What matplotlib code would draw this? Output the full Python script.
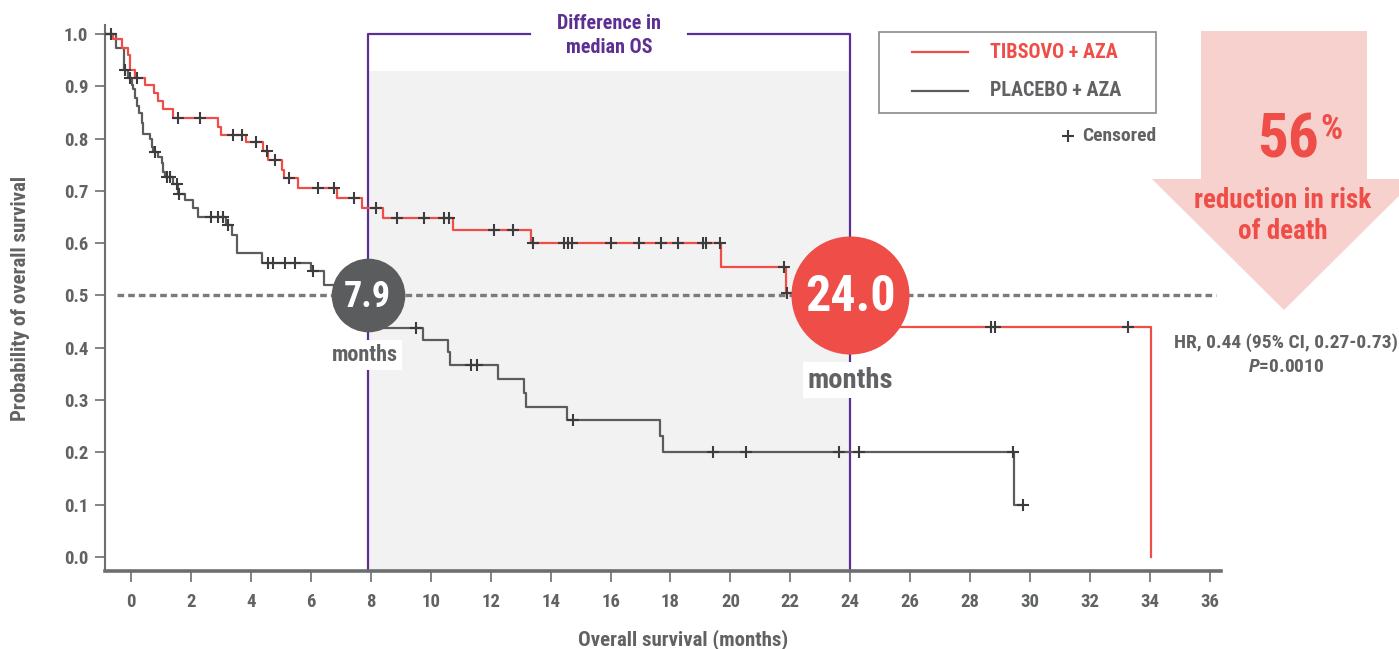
import numpy as np
import matplotlib.pyplot as plt
from matplotlib.patches import Polygon, Rectangle

plt.rcParams['font.family'] = ['Roboto Condensed', 'DejaVu Sans']
plt.rcParams['font.weight'] = 'bold'
plt.rcParams['axes.labelweight'] = 'bold'
plt.rcParams['mathtext.fontset'] = 'custom'
plt.rcParams['mathtext.it'] = 'Roboto Condensed:italic:bold'
plt.rcParams['mathtext.rm'] = 'Roboto Condensed:bold'

# TIBSOVO + AZA: step times (months) and survival after each step
tib_time = [-0.85, -0.60, -0.31, -0.10, -0.04, 0.13, 0.48, 0.78, 0.89, 1.07, 1.40, 2.91, 3.00,
            3.84, 4.42, 4.58, 5.05, 5.12, 5.58, 6.86, 7.70, 8.40, 10.73, 13.35, 19.70, 21.85,
            24.00, 34.02]
tib_surv = [1.000, 0.990, 0.973, 0.960, 0.932, 0.916, 0.903, 0.887, 0.872, 0.857, 0.839, 0.823,
            0.807, 0.793, 0.777, 0.759, 0.740, 0.724, 0.705, 0.686, 0.667, 0.648, 0.625, 0.601,
            0.554, 0.504, 0.440, 0.000]
tib_cens = [0.21, 1.56, 2.30, 3.41, 3.69, 4.17, 4.53, 4.80, 5.27, 6.23, 6.78, 7.43, 8.17, 8.89,
            9.78, 10.44, 10.62, 12.12, 12.76, 13.42, 14.46, 14.59, 14.73, 16.00, 16.95, 17.68,
            18.24, 19.08, 19.18, 19.66, 21.79, 21.90, 28.70, 28.83, 33.26]

# PLACEBO + AZA
pbo_time = [-0.85, -0.49, -0.22, -0.10, 0.02, 0.08, 0.13, 0.19, 0.27, 0.36, 0.41, 0.63, 0.69,
            0.74, 0.91, 1.02, 1.08, 1.13, 1.41, 1.58, 1.80, 2.08, 2.25, 3.17, 3.36, 3.55, 4.38,
            6.00, 6.45, 7.90, 9.73, 10.57, 10.64, 12.23, 13.11, 13.19, 14.56, 17.65, 17.74,
            29.47, 29.75]
pbo_surv = [1.000, 0.973, 0.932, 0.916, 0.903, 0.894, 0.878, 0.862, 0.848, 0.829, 0.809, 0.800,
            0.784, 0.775, 0.765, 0.753, 0.737, 0.727, 0.714, 0.695, 0.683, 0.667, 0.651, 0.635,
            0.616, 0.582, 0.563, 0.546, 0.520, 0.437, 0.414, 0.391, 0.367, 0.340, 0.313, 0.287,
            0.262, 0.231, 0.201, 0.100, 0.100]
pbo_cens = [-0.68, -0.19, -0.05, 0.80, 1.19, 1.30, 1.52, 1.61, 2.66, 2.91, 3.08, 3.25, 4.58,
            4.75, 5.14, 5.47, 6.08, 9.50, 11.36, 11.54, 14.74, 19.41, 20.52, 23.61, 24.28,
            29.44, 29.75]

medians = [7.9, 24.0]
median_labels = ['7.9', '24.0']
hr_text = 'HR, 0.44 (95% CI, 0.27-0.73)'
p_text = r'$\it{P}$=0.0010'
risk_reduction = '56'

x_ticks = np.arange(0, 37, 2)
y_ticks = np.round(np.arange(0, 1.01, 0.1), 1)

RED = '#ef4d48'
DARK = '#5b5c5e'
TEXT = '#616264'
PURPLE = '#5e2f92'
CROSS = '#3c3c3c'
AXIS = '#6d6e70'

W, H = 1399, 649


def level_at(times, surv, t):
    idx = np.searchsorted(times, t, side='right') - 1
    return np.asarray(surv)[idx]


fig = plt.figure(figsize=(W / 100, H / 100), dpi=100)
ax = fig.add_axes([105 / W, 1 - 571 / H, 1116 / W, 546 / H])
y_lo, y_hi = -0.0268, 1.0172
ax.set_xlim(-0.868, 36.37)
ax.set_ylim(y_lo, y_hi)

# median difference band and bracket
ax.fill_between(medians, y_lo, 0.929, color='#f2f2f2', lw=0, zorder=0)
mid = np.mean(medians)
ax.plot([medians[0], medians[0], mid - 2.65], [y_lo, 1.0, 1.0], color=PURPLE, lw=1.6,
        clip_on=False, zorder=2)
ax.plot([mid + 2.65, medians[1], medians[1]], [1.0, 1.0, y_lo], color=PURPLE, lw=1.6,
        clip_on=False, zorder=2)
ax.text(mid, 0.998, 'Difference in\nmedian OS', ha='center', va='center', color=PURPLE,
        fontsize=14.5, linespacing=1.33, zorder=6)

ax.hlines(0.5, -0.47, 36.2, colors='#7b7b7b', lw=2.4, linestyles=(0, (2.0, 1.2)), zorder=1)

ax.step(pbo_time, pbo_surv, where='post', color=DARK, lw=1.6, zorder=3)
ax.step(tib_time, tib_surv, where='post', color=RED, lw=1.6, zorder=3)
ax.plot(pbo_cens, level_at(pbo_time, pbo_surv, pbo_cens), ls='none', marker='+', ms=8.5,
        mew=1.5, color=CROSS, zorder=4)
ax.plot(tib_cens, level_at(tib_time, tib_surv, tib_cens), ls='none', marker='+', ms=8.5,
        mew=1.5, color=CROSS, zorder=4)

# median bubbles
ax.scatter([medians[0]], [0.5], s=53 ** 2, color=DARK, lw=0, zorder=5)
ax.scatter([medians[1]], [0.5], s=85 ** 2, color=RED, lw=0, zorder=5)
ax.text(medians[0], 0.497, median_labels[0], ha='center', va='center', color='white',
        fontsize=26, zorder=6)
ax.text(medians[1], 0.497, median_labels[1], ha='center', va='center', color='white',
        fontsize=36, zorder=6)
ax.annotate('months', (medians[0], 0.5), xytext=(-2, -43), textcoords='offset points',
            ha='center', va='center', color=TEXT, fontsize=16, zorder=6,
            bbox=dict(fc='white', ec='none', pad=3))
ax.annotate('months', (medians[1], 0.5), xytext=(0, -61), textcoords='offset points',
            ha='center', va='center', color=TEXT, fontsize=20.5, zorder=6,
            bbox=dict(fc='white', ec='none', pad=3))

for side in ['top', 'right']:
    ax.spines[side].set_visible(False)
ax.spines['left'].set_color(AXIS)
ax.spines['left'].set_linewidth(1.5)
ax.spines['bottom'].set_color(AXIS)
ax.spines['bottom'].set_linewidth(2.6)
ax.set_xticks(x_ticks)
ax.set_yticks(y_ticks)
ax.set_yticklabels(['%.1f' % v for v in y_ticks])
ax.tick_params(axis='x', length=8, width=1.2, color=AXIS, pad=8, labelsize=13.5,
               labelcolor=TEXT)
ax.tick_params(axis='y', length=7, width=1.2, color=AXIS, pad=5, labelsize=13.5,
               labelcolor=TEXT)
ax.set_xlabel('Overall survival (months)', fontsize=15, color=TEXT)
ax.set_ylabel('Probability of overall survival', fontsize=15, color=TEXT)
ax.xaxis.set_label_coords(0.518, -0.106)
ax.yaxis.set_label_coords(-0.067, 0.5)

# overlay in pixel units for legend, arrow and summary text
ov = fig.add_axes([0, 0, 1, 1])
ov.set_xlim(0, W)
ov.set_ylim(H, 0)
ov.axis('off')
ov.patch.set_visible(False)

ov.add_patch(Rectangle((879, 32), 277, 81, fill=False, ec='#8a8a8a', lw=1.2))
ov.plot([912, 968], [52, 52], color=RED, lw=1.6)
ov.plot([912, 968], [91, 91], color=DARK, lw=1.6)
ov.text(990, 52, 'TIBSOVO + AZA', va='center', color=RED, fontsize=14.5)
ov.text(990, 91, 'PLACEBO + AZA', va='center', color=TEXT, fontsize=14.5)
ov.plot([1068], [136], marker='+', ms=8, mew=1.5, color=CROSS)
ov.text(1082, 136, 'Censored', va='center', color=TEXT, fontsize=14)

arrow = [(1201, 31), (1367, 31), (1367, 179), (1416, 179), (1284, 310), (1152, 179),
         (1201, 179)]
ov.add_patch(Polygon(arrow, closed=True, fc='#f6d1ce', ec='none', clip_on=False))
ov.text(1319, 158, risk_reduction, ha='right', va='baseline', color=RED, fontsize=44)
ov.text(1320, 113, '%', ha='left', va='top', color=RED, fontsize=25)
ov.text(1283, 216, 'reduction in risk\nof death', ha='center', va='center', color=RED,
        fontsize=19.5, linespacing=1.18)
ov.text(1286, 343, hr_text, ha='center', va='center', color=TEXT, fontsize=14)
ov.text(1286, 367, p_text, ha='center', va='center', color=TEXT, fontsize=14)

fig.savefig('out.png', dpi=100)
